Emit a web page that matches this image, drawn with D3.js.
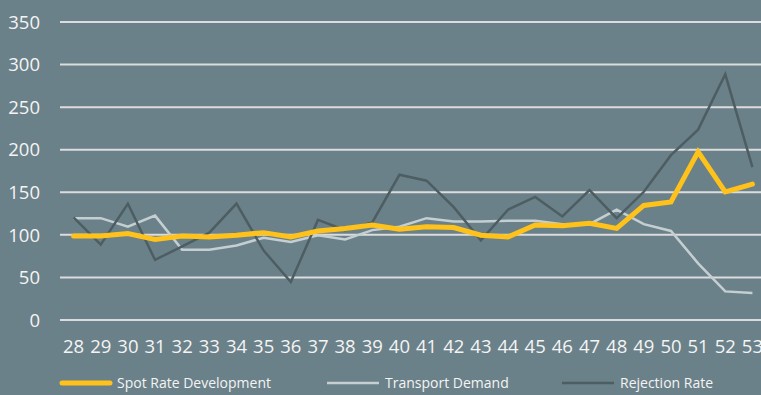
<!DOCTYPE html>
<html>
<head>
<meta charset="utf-8">
<script src="https://cdn.jsdelivr.net/npm/d3@7"></script>
<style>
  html, body { margin: 0; padding: 0; background: #6b8189; overflow: hidden; }
  #my_dataviz { width: 761px; height: 395px; }
  text { font-family: "Open Sans", sans-serif; fill: #f4f4f4; }
</style>
</head>
<body>
<div id="my_dataviz"></div>
<script>
// week numbers on the x axis
const weeks = [28, 29, 30, 31, 32, 33, 34, 35, 36, 37, 38, 39, 40,
               41, 42, 43, 44, 45, 46, 47, 48, 49, 50, 51, 52, 53];

const spotRate = [98, 98, 101, 94, 98, 97, 99, 102, 97, 104, 107, 111, 106,
                  109, 108, 99, 97, 111, 110, 113, 107, 134, 138, 197, 150, 159];
const transportDemand = [119, 119, 109, 122, 82, 82, 87, 96, 91, 99, 94, 105, 109,
                         119, 115, 115, 116, 116, 112, 112, 129, 112, 104, 66, 33, 31];
const rejectionRate = [120, 88, 136, 70, 86, 102, 136, 81, 44, 117, 105, 114, 170,
                       163, 132, 93, 129, 144, 121, 152, 119, 150, 193, 223, 288, 179];

const yTicks = [0, 50, 100, 150, 200, 250, 300, 350];

const series = [
  { name: "Spot Rate Development", values: spotRate, color: "#ffc21a", width: 5, legendX: 60, textX: 117 },
  { name: "Transport Demand", values: transportDemand, color: "#c5cfd2", width: 2.5, legendX: 327, textX: 385 },
  { name: "Rejection Rate", values: rejectionRate, color: "#4d5e63", width: 2.5, legendX: 562, textX: 620 }
];

const chartWidth = 761, chartHeight = 395;
// the plot runs a little past the right edge, like the original (week 53 is clipped)
const plotLeft = 60, plotRight = 766, plotTop = 21.5, plotBottom = 319.5;

const svg = d3.select("#my_dataviz")
  .append("svg")
  .attr("width", chartWidth)
  .attr("height", chartHeight);

const x = d3.scaleBand()
  .domain(weeks)
  .range([plotLeft, plotRight])
  .padding(0);

const y = d3.scaleLinear()
  .domain([0, 350])
  .range([plotBottom, plotTop]);

// gridlines + y labels
const yAxis = svg.append("g")
  .call(d3.axisLeft(y).tickValues(yTicks).tickSize(0).tickPadding(0));
yAxis.select(".domain").remove();
yAxis.selectAll(".tick line")
  .attr("x1", plotLeft).attr("x2", chartWidth + 10)
  .attr("stroke", "#dcdcdc")
  .attr("stroke-width", 2);
yAxis.selectAll(".tick text")
  .attr("x", 40)
  .attr("dy", "0.36em")
  .style("font-size", "18.5px")
  .style("font-family", "'Open Sans', sans-serif")
  .attr("fill", "#f4f4f4");

// x labels
const xAxis = svg.append("g")
  .attr("transform", `translate(0, ${plotBottom})`)
  .call(d3.axisBottom(x).tickSize(0).tickPadding(0));
xAxis.select(".domain").remove();
xAxis.selectAll(".tick text")
  .attr("y", 33.5)
  .attr("dy", 0)
  .style("font-size", "18.5px")
  .style("font-family", "'Open Sans', sans-serif")
  .attr("fill", "#f4f4f4");

const line = d3.line()
  .x((d, i) => x(weeks[i]) + x.bandwidth() / 2)
  .y(d => y(d));

// draw back to front: demand, rejection, spot rate on top
[series[1], series[2], series[0]].forEach(function(s) {
  svg.append("path")
    .datum(s.values)
    .attr("d", line)
    .attr("fill", "none")
    .attr("stroke", s.color)
    .attr("stroke-width", s.width)
    .attr("stroke-linejoin", "miter")
    .attr("stroke-linecap", s.width > 3 ? "round" : "butt");
});

// legend
const legendY = 383;
const legend = svg.append("g");
series.forEach(function(s) {
  legend.append("line")
    .attr("x1", s.legendX + (s.width > 3 ? 2 : 0))
    .attr("x2", s.legendX + 52 - (s.width > 3 ? 2 : 0))
    .attr("y1", legendY).attr("y2", legendY)
    .attr("stroke", s.color)
    .attr("stroke-width", s.width)
    .attr("stroke-linecap", s.width > 3 ? "round" : "butt");
  legend.append("text")
    .attr("x", s.textX)
    .attr("y", legendY + 5)
    .style("font-size", "14px")
    .text(s.name);
});
</script>
</body>
</html>
